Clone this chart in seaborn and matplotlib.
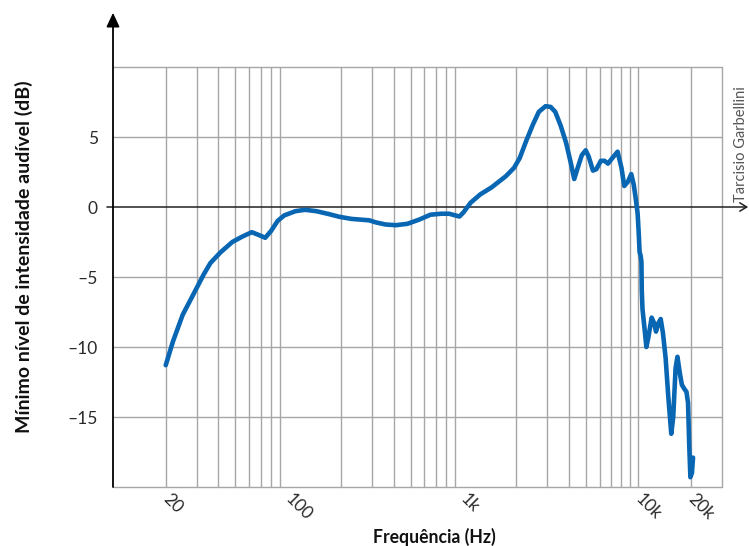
import pandas as pd
import matplotlib.pyplot as plt
import seaborn as sns

# threshold curve (Hz, dB)
freq_hz = [20, 22, 25, 30, 33, 36, 41, 48, 55, 62, 68, 74, 80, 87, 95,
           110, 125, 145, 170, 196, 230, 290, 317, 360, 412, 480, 560, 650,
           750, 830, 900, 950, 1000, 1100, 1250, 1450, 1750, 1950, 2100,
           2300, 2500, 2700, 2950, 3150, 3350, 3600, 3860, 4100, 4300, 4500,
           4750, 5000, 5200, 5500, 5750, 6100, 6400, 6700, 7100, 7600, 8000,
           8300, 8700, 9100, 9400, 9650, 9900, 10050, 10150, 10300, 10400,
           10450, 10550, 10900, 11100, 11400, 11900, 12300, 12600, 13000,
           13400, 13800, 14300, 14800, 15400, 15800, 16300, 16700, 17200,
           17700, 18300, 18800, 19200, 19500, 19800, 20200, 20500]
threshold_db = [-11.3, -9.6, -7.7, -5.8, -4.8, -4.0, -3.25, -2.5, -2.1, -1.8,
                -2.0, -2.2, -1.7, -1.0, -0.6, -0.3, -0.2, -0.3, -0.5, -0.7,
                -0.85, -0.95, -1.1, -1.25, -1.3, -1.2, -0.9, -0.55, -0.48,
                -0.48, -0.6, -0.68, -0.4, 0.3, 0.9, 1.4, 2.2, 2.8, 3.5, 4.8,
                5.9, 6.8, 7.2, 7.15, 6.8, 5.8, 4.6, 3.2, 2.0, 2.8, 3.7, 4.05,
                3.6, 2.6, 2.7, 3.3, 3.3, 3.1, 3.5, 3.95, 2.8, 1.5, 1.8, 2.35,
                1.6, 0.6, -0.5, -2.0, -3.2, -3.5, -3.9, -6.0, -7.3, -9.0,
                -10.0, -9.3, -7.9, -8.3, -8.9, -8.3, -8.0, -9.0, -10.8, -13.5,
                -16.2, -15.0, -11.5, -10.7, -11.8, -12.7, -13.0, -13.2, -14.0,
                -17.0, -19.3, -19.0, -17.9]

tick_freqs = [20, 100, 1000, 10000, 20000]
tick_labels = ["20", "100", "1k", "10k", "20k"]
ytick_values = [-15, -10, -5, 0, 5]
ytick_labels = ["\u201315", "\u201310", "\u20135", "0", "5"]

grid_freqs = [m * 10 ** e for e in (1, 2, 3) for m in range(2, 10)] + [10000, 20000, 30000]
grid_db = [-20, -15, -10, -5, 5, 10]

sns.set_theme(style="white")
plt.rcParams['font.family'] = ['Lato', 'DejaVu Sans']

fig = plt.figure(figsize=(7.49, 5.46), dpi=100)
ax = fig.add_axes([113 / 749, 1 - 487 / 546, 609 / 749, 420 / 546])

df = pd.DataFrame({"freq": freq_hz, "db": threshold_db})
sns.lineplot(data=df, x="freq", y="db", sort=False, estimator=None,
             color="#0866b2", lw=3.3, ax=ax, zorder=5,
             solid_joinstyle="round", solid_capstyle="round")

ax.set_xscale("log")
ax.set_xlim(10, 30000)
ax.set_ylim(-20, 10)

grid_col = "#a6a6a6"
for f in grid_freqs:
    ax.axvline(f, color=grid_col, lw=1.0, zorder=1, clip_on=False)
for v in grid_db:
    ax.axhline(v, color=grid_col, lw=1.0, zorder=1, clip_on=False)

for s in ax.spines.values():
    s.set_visible(False)

# y axis with arrow
ax.annotate("", xy=(0, 1.129), xytext=(0, 0), xycoords="axes fraction",
            arrowprops=dict(arrowstyle="-|>,head_length=0.6,head_width=0.28",
                            color="black", lw=1.3, mutation_scale=14,
                            shrinkA=0, shrinkB=0),
            annotation_clip=False, zorder=6)
# zero line with arrow
ax.annotate("", xy=(1.043, 0), xytext=(-0.01, 0), xycoords=ax.get_yaxis_transform(),
            arrowprops=dict(arrowstyle="->,head_length=0.5,head_width=0.3",
                            color="#222222", lw=1.1, mutation_scale=10,
                            shrinkA=0, shrinkB=0),
            annotation_clip=False, zorder=4)

ax.set_xticks(tick_freqs)
ax.set_xticklabels(tick_labels, rotation=-45, rotation_mode="anchor",
                   ha="left", va="center")
ax.minorticks_off()
ax.set_yticks(ytick_values)
ax.set_yticklabels(ytick_labels)
ax.tick_params(axis="x", length=0, pad=7, labelsize=12.5, labelcolor="#2a2a2a")
ax.tick_params(axis="y", length=0, pad=11, labelsize=12.5, labelcolor="#2a2a2a")
ax.set_xlabel("")
ax.set_ylabel("")

fig.text(24 / 749, 1 - 257 / 546, "Mínimo nível de intensidade audível (dB)",
         rotation=90, ha="center", va="center", fontsize=14, fontweight="bold",
         color="#111111")
fig.text(434 / 749, 1 - 537 / 546, "Frequência (Hz)", ha="center", va="center",
         fontsize=12.7, fontweight="bold", color="#111111")
fig.text(734 / 749, 1 - 202 / 546, "Tarcisio Garbellini", rotation=90,
         ha="left", va="bottom", fontsize=10.5, color="#555555")

fig.savefig("out.png", dpi=100)
